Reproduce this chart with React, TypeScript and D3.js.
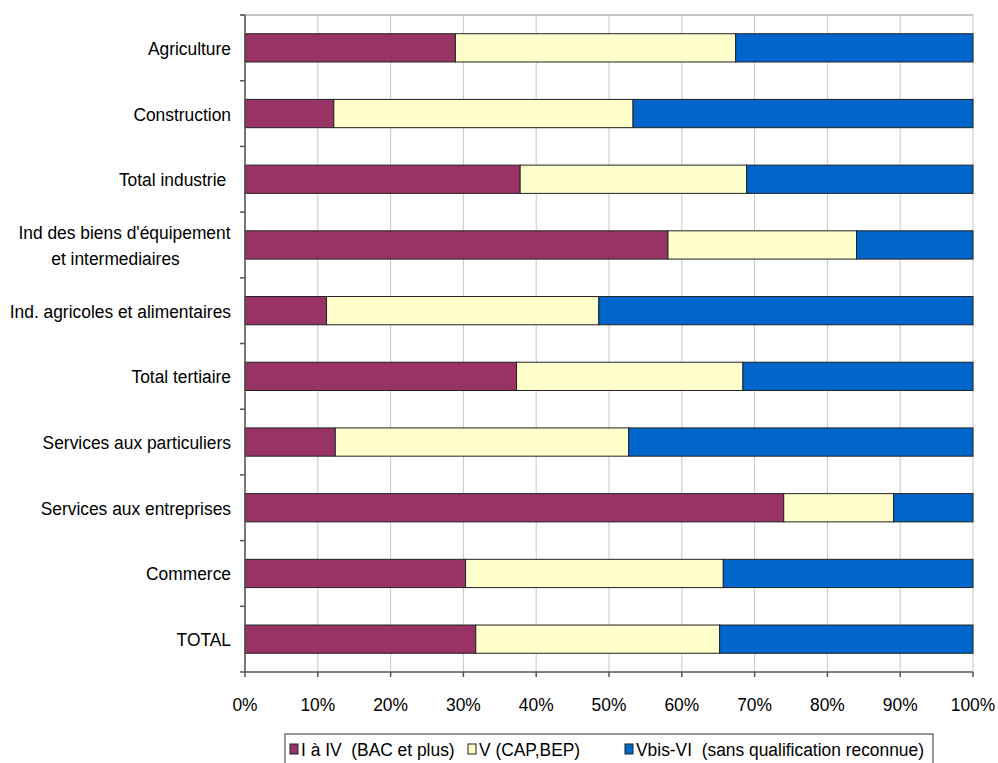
import React from "react";
import * as d3 from "d3";

const categories = [
  "Agriculture",
  "Construction",
  "Total industrie ",
  "Ind des biens d'équipement\net intermediaires",
  "Ind. agricoles et alimentaires",
  "Total tertiaire",
  "Services aux particuliers",
  "Services aux entreprises",
  "Commerce",
  "TOTAL",
];

const seriesNames = [
  "I à IV  (BAC et plus)",
  "V (CAP,BEP)",
  "Vbis-VI  (sans qualification reconnue)",
];

const bacPlus = [28.9, 12.2, 37.8, 58.1, 11.2, 37.3, 12.4, 74.0, 30.3, 31.7];
const capBep = [38.5, 41.1, 31.1, 25.9, 37.4, 31.1, 40.3, 15.1, 35.4, 33.5];
const sansQualif = [32.6, 46.7, 31.1, 16.0, 51.4, 31.6, 47.3, 10.9, 34.3, 34.8];

const xTicks = [0, 10, 20, 30, 40, 50, 60, 70, 80, 90, 100];
const colors = ["#993366", "#FFFFCC", "#0066CC"];

const W = 998;
const H = 763;
const margin = { left: 245, right: 25, top: 15, bottom: 91 };
const FONT = "'Liberation Sans', Arial, sans-serif";
const FS = 17.4;
const SY = 1.08;

export default function App() {
  const x = d3
    .scaleLinear()
    .domain([0, 100])
    .range([margin.left, W - margin.right]);
  const y = d3
    .scaleBand<string>()
    .domain(categories)
    .range([margin.top, H - margin.bottom])
    .paddingInner(0.57)
    .paddingOuter(0.285);

  const rows = categories.map((c, i) => ({
    cat: c,
    s0: bacPlus[i],
    s1: capBep[i],
    s2: sansQualif[i],
  }));
  const stack = d3.stack<any>().keys(["s0", "s1", "s2"]);
  const layers = stack(rows);

  const x0 = x(0);
  const x1 = x(100);
  const yTop = margin.top;
  const yBot = H - margin.bottom;
  const step = y.step();

  const txt = (
    key: string,
    tx: number,
    ty: number,
    s: string,
    anchor: "start" | "middle" | "end"
  ) => (
    <text
      key={key}
      transform={`translate(${tx},${ty}) scale(1,${SY})`}
      textAnchor={anchor}
      fontFamily={FONT}
      fontSize={FS}
      fill="#000"
      style={{ whiteSpace: "pre" }}
    >
      {s}
    </text>
  );

  const legendX = [290, 468, 625];

  return (
    <svg
      width={W}
      height={H}
      style={{ position: "absolute", left: 0, top: 0, background: "#fff" }}
    >
      <rect x={0} y={0} width={W} height={H} fill="#fff" />
      {/* gridlines */}
      {xTicks.map((t) => (
        <line
          key={"g" + t}
          x1={x(t)}
          x2={x(t)}
          y1={yTop}
          y2={yBot}
          stroke="#c8c8c8"
          strokeWidth={1}
        />
      ))}
      <line x1={x0 - 5} x2={x1} y1={yTop} y2={yTop} stroke="#b4b4b4" strokeWidth={1.5} />
      {/* bars */}
      {layers.map((layer, li) =>
        layer.map((d: any, i: number) => (
          <rect
            key={`b${li}-${i}`}
            x={x(d[0])}
            y={y(categories[i])}
            width={x(d[1]) - x(d[0])}
            height={y.bandwidth()}
            fill={colors[li]}
            stroke="#222"
            strokeWidth={1}
          />
        ))
      )}
      {/* y axis */}
      <line x1={x0} x2={x0} y1={yTop} y2={yBot} stroke="#555" strokeWidth={1.5} />
      {d3.range(categories.length + 1).map((i) => (
        <line
          key={"yt" + i}
          x1={x0 - 5}
          x2={x0}
          y1={yTop + i * step}
          y2={yTop + i * step}
          stroke="#555"
          strokeWidth={1.5}
        />
      ))}
      {/* x axis */}
      <line x1={x0} x2={x1} y1={yBot} y2={yBot} stroke="#555" strokeWidth={1.5} />
      {xTicks.map((t) => (
        <line
          key={"xt" + t}
          x1={x(t)}
          x2={x(t)}
          y1={yBot}
          y2={yBot + 5}
          stroke="#555"
          strokeWidth={1.5}
        />
      ))}
      {xTicks.map((t) => txt("xl" + t, x(t), yBot + 39, `${t}%`, "middle"))}
      {/* category labels */}
      {categories.map((c) => {
        const cy = (y(c) as number) + y.bandwidth() / 2;
        const lines = c.split("\n");
        if (lines.length === 1) return txt("yl" + c, x0 - 14, cy + 7, c, "end");
        return (
          <g key={"yl" + c}>
            {txt("a", 124.5, cy - 6, lines[0], "middle")}
            {txt("b", 115.5, cy + 20, lines[1], "middle")}
          </g>
        );
      })}
      {/* legend */}
      <rect x={285} y={734} width={648} height={40} fill="#fff" stroke="#333" strokeWidth={1} />
      {seriesNames.map((s, i) => (
        <g key={"lg" + i}>
          <rect
            x={legendX[i]}
            y={744}
            width={8}
            height={10}
            fill={colors[i]}
            stroke="#222"
            strokeWidth={1}
          />
          {txt("lt" + i, legendX[i] + 11, 756, s, "start")}
        </g>
      ))}
    </svg>
  );
}
